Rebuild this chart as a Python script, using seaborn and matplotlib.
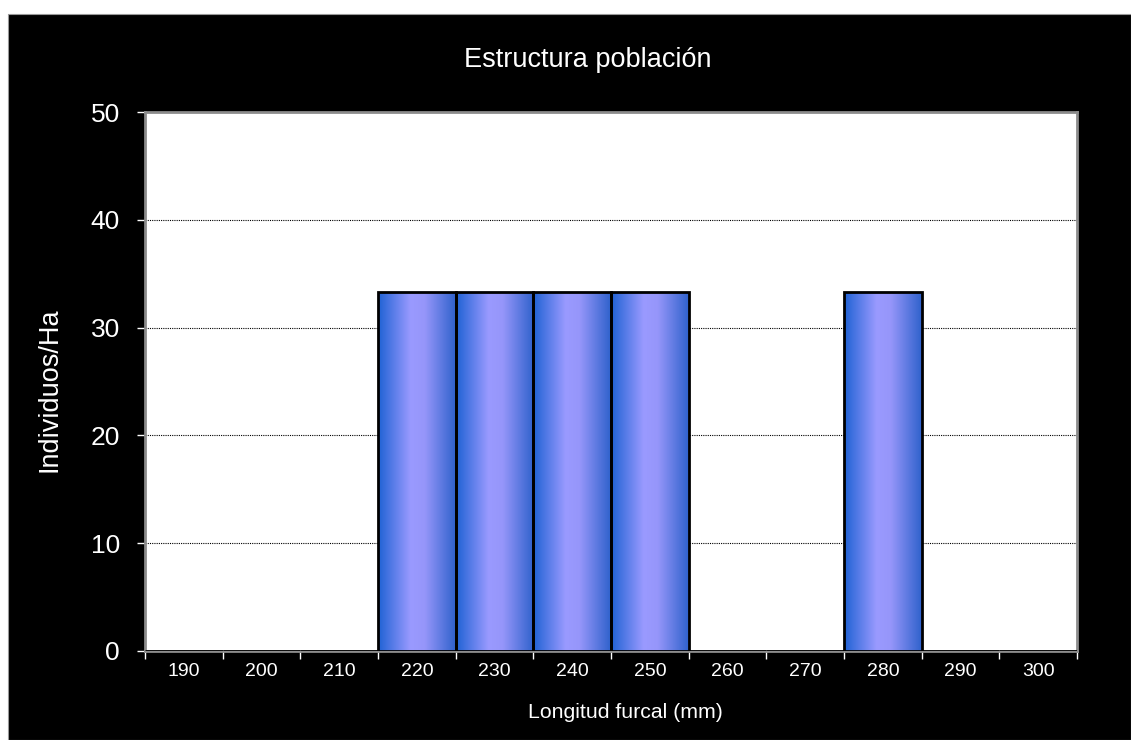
import numpy as np
import pandas as pd
import matplotlib
matplotlib.use("Agg")
import matplotlib.pyplot as plt
import seaborn as sns
from matplotlib.colors import LinearSegmentedColormap
from matplotlib.patches import Rectangle

categories = ["190", "200", "210", "220", "230", "240", "250", "260", "270", "280", "290", "300"]
values = [0, 0, 0, 33.33, 33.33, 33.33, 33.33, 0, 0, 33.33, 0, 0]
y_ticks = [0, 10, 20, 30, 40, 50]
title = "Estructura población"
xlabel = "Longitud furcal (mm)"
ylabel = "Individuos/Ha"

sns.set_theme(style="white")
plt.rcParams['font.family'] = ['Liberation Sans', 'DejaVu Sans']

fig = plt.figure(figsize=(11.31, 7.40), dpi=100)
fig.patch.set_facecolor("white")
bg = Rectangle((8/1131, 0), 1 - 8/1131, 1 - 14/740, transform=fig.transFigure,
               facecolor="black", edgecolor="#999999", linewidth=0.8, zorder=-10)
fig.patches.append(bg)

ax = fig.add_axes([145/1131, 1 - 651/740, (1077 - 145)/1131, (651 - 112)/740])
ax.set_facecolor("white")

df = pd.DataFrame({"cat": categories, "val": values})
sns.barplot(data=df, x="cat", y="val", ax=ax, width=1.0, color="#9999ff",
            edgecolor="black", linewidth=2, saturation=1, zorder=3)

cmap = LinearSegmentedColormap.from_list(
    "grad", [(0.0, "#1f62d4"), (0.42, "#9a9aff"), (0.6, "#9696fa"), (1.0, "#2f62cc")])
grad = np.linspace(0, 1, 256).reshape(1, -1)
for p in ax.patches:
    h = p.get_height()
    if h <= 0:
        continue
    x0 = p.get_x(); w = p.get_width()
    im = ax.imshow(grad, cmap=cmap, aspect="auto", extent=(x0, x0 + w, 0, h),
                   zorder=3.5, interpolation="bilinear")
    im.set_clip_path(p)
    p.set_facecolor("none")
    p.set_zorder(4)

ax.set_xlim(-0.5, len(categories) - 0.5)
ax.set_ylim(0, 50)
ax.set_yticks(y_ticks)
ax.set_xticks(list(np.arange(len(categories)) - 0.5) + [len(categories) - 0.5])
ax.set_xticklabels([])
ax.set_xticks(np.arange(len(categories)), minor=True)
ax.set_xticklabels(categories, minor=True)
ax.tick_params(axis="x", which="major", length=6, width=1, color="white", direction="out", bottom=True)
ax.tick_params(axis="x", which="minor", length=0, labelsize=14, labelcolor="white", pad=9)
ax.tick_params(axis="y", length=6, width=1, color="white", direction="out", left=True,
               labelsize=19, labelcolor="white", pad=12)

for yv in y_ticks[1:-1]:
    ax.axhline(yv, color="black", linestyle=(0, (1, 1)), linewidth=0.8, zorder=1)

for s in ax.spines.values():
    s.set_visible(True)
    s.set_color("#8c8c8c")
    s.set_linewidth(2)

ax.set_xlabel("")
ax.set_ylabel("")
fig.text(588/1131, 1 - 60/740, title, color="white", fontsize=19.5, ha="center", va="center")
fig.text(50/1131, 1 - 390/740, ylabel, color="white", fontsize=19.5, ha="center", va="center", rotation=90)
fig.text(625/1131, 1 - 712/740, xlabel, color="white", fontsize=15.3, ha="center", va="center")

fig.savefig("out.png", dpi=100, facecolor=fig.get_facecolor())
